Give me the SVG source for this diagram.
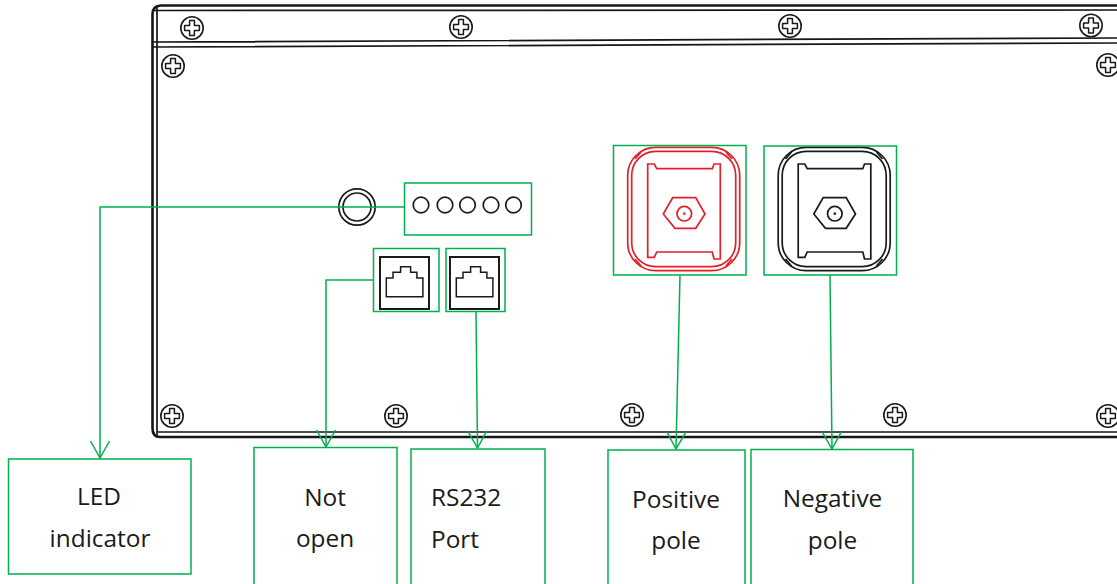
<svg xmlns="http://www.w3.org/2000/svg" xmlns:xlink="http://www.w3.org/1999/xlink" width="1117" height="584" viewBox="0 0 1117 584">
<style>
.k{fill:none;stroke:#161616}
.g{fill:none;stroke:#00b050;stroke-width:1.5}
.b{fill:#fff;stroke:#00b050;stroke-width:1.5}
.t{font-family:"Open Sans","Noto Sans",sans-serif;font-size:24.400px;fill:#1a1a1a;text-anchor:middle}
.sc{fill:#fff;stroke:#1a1a1a;stroke-width:1.6}
.j{fill:none;stroke:#1a1a1a;stroke-width:1.5}
.d{fill:none;stroke:#1a1a1a;stroke-width:1.7}
.tp{fill:none;stroke-width:1.7}
</style>
<defs>
<marker id="arrow" markerUnits="userSpaceOnUse" markerWidth="24" markerHeight="24" refX="20" refY="12" orient="auto" viewBox="0 0 24 24" overflow="visible">
<path d="M3 2.500L20 12L3 21.500" fill="none" stroke="#00b050" stroke-width="1.500"/>
</marker>
<g id="screw">
<circle r="11.200" class="sc"/>
<path class="j" d="M-2.400-7.400h4.800v5h5v4.800h-5v5h-4.800v-5h-5v-4.800h5z" stroke-linejoin="round"/>
</g>
<g id="jack">
<rect x="0" y="0" width="49" height="52" fill="none" stroke="#1a1a1a" stroke-width="2"/>
<path class="j" d="M6.300 39.700V21h6.700v-5.700h7.600v-5.600h10v5.600h6.300V21h6V39.700z"/>
</g>
<g id="terminal">
<rect class="tp" x="22.700" y="7.300" width="112" height="123.400" rx="28"/>
<rect class="tp" x="26.700" y="11.300" width="104" height="115.400" rx="24"/>
<path class="tp" d="M42.700 24H49.300L51.700 28.700H107.300L109 24H115.300V119H109L107.300 112H51.700L49.300 117.300H42.700Z"/>
<path class="tp" d="M58.300 74L67.700 57.700H90.700L100 74L90.700 88.300H70Z"/>
<circle class="tp" cx="79.300" cy="73.700" r="7.300"/>
<circle class="tp" cx="79.300" cy="73.700" r=".5"/>
<path class="tp" d="M121 12L127 19M36 12L30 19M30 119L36 126M127 119L121 126"/>
</g>
</defs>
<rect width="1117" height="584" fill="#fff"/>
<g id="panel">
<path class="k" stroke-width="2.600" d="M1117 5.500H161Q152.500 6 152.500 14V428Q152.500 437 160 437H1117"/>
<path class="k" stroke-width="1.700" d="M1117 10L153 10.500M157 7V436M1117 432H157M1117 38L153 42M1117 43L153 47"/>
</g>
<g id="screws">
<use xlink:href="#screw" href="#screw" x="192" y="28"/>
<use xlink:href="#screw" href="#screw" x="461" y="27"/>
<use xlink:href="#screw" href="#screw" x="790" y="26"/>
<use xlink:href="#screw" href="#screw" x="1091" y="25.500"/>
<use xlink:href="#screw" href="#screw" x="173" y="66"/>
<use xlink:href="#screw" href="#screw" x="1108" y="65"/>
<use xlink:href="#screw" href="#screw" x="172" y="416"/>
<use xlink:href="#screw" href="#screw" x="396" y="416"/>
<use xlink:href="#screw" href="#screw" x="632" y="415"/>
<use xlink:href="#screw" href="#screw" x="895" y="415"/>
<use xlink:href="#screw" href="#screw" x="1108" y="416"/>
</g>
<g id="led-lamp">
<circle cx="357" cy="207" r="18.200" class="d"/>
<circle cx="357" cy="207" r="14" class="d"/>
</g>
<g id="connectors">
<path class="g" marker-end="url(#arrow)" d="M404 207H100V458"/>
<path class="g" marker-end="url(#arrow)" d="M374 280H326V447"/>
<path class="g" marker-end="url(#arrow)" d="M476 311L477.500 448"/>
<path class="g" marker-end="url(#arrow)" d="M680 275L676 449"/>
<path class="g" marker-end="url(#arrow)" d="M830 275L832 449"/>
</g>
<g id="led-group">
<rect x="404.500" y="183" width="127" height="52" class="g"/>
<circle cx="421" cy="205" r="7.800" class="d"/>
<circle cx="445" cy="205" r="7.800" class="d"/>
<circle cx="467.500" cy="205" r="7.800" class="d"/>
<circle cx="491" cy="205" r="7.800" class="d"/>
<circle cx="513.500" cy="205" r="7.800" class="d"/>
</g>
<g id="port-not-open">
<use xlink:href="#jack" href="#jack" x="380" y="257"/>
<rect x="373.500" y="248.500" width="65.500" height="63" class="g"/>
</g>
<g id="port-rs232">
<use xlink:href="#jack" href="#jack" x="450" y="257"/>
<rect x="446" y="248.500" width="59" height="63" class="g"/>
</g>
<g id="positive-terminal">
<use xlink:href="#terminal" href="#terminal" x="605" y="140" stroke="#e0202a"/>
<rect x="613.500" y="145.500" width="132.500" height="129.500" class="g"/>
</g>
<g id="negative-terminal">
<use xlink:href="#terminal" href="#terminal" x="755.500" y="140" stroke="#1a1a1a"/>
<rect x="764" y="146" width="132.500" height="129" class="g"/>
</g>
<g id="label-led">
<rect x="8.500" y="459" width="182.500" height="115" class="b"/>
<text class="t" x="99" y="505">LED</text>
<text class="t" x="100" y="547">indicator</text>
</g>
<g id="label-not-open">
<path class="g" d="M254 584V447.500H397V584"/>
<text class="t" x="325" y="506">Not</text>
<text class="t" x="325" y="547">open</text>
</g>
<g id="label-rs232">
<path class="g" d="M411 584V449H545V584"/>
<text class="t" x="431" y="506" style="text-anchor:start">RS232</text>
<text class="t" x="431" y="548" style="text-anchor:start">Port</text>
</g>
<g id="label-positive">
<path class="g" d="M608 584V450H745V584"/>
<text class="t" x="676" y="508">Positive</text>
<text class="t" x="676" y="549">pole</text>
</g>
<g id="label-negative">
<path class="g" d="M751 584V449.500H913V584"/>
<text class="t" x="832.500" y="507">Negative</text>
<text class="t" x="832.500" y="549">pole</text>
</g>
</svg>
